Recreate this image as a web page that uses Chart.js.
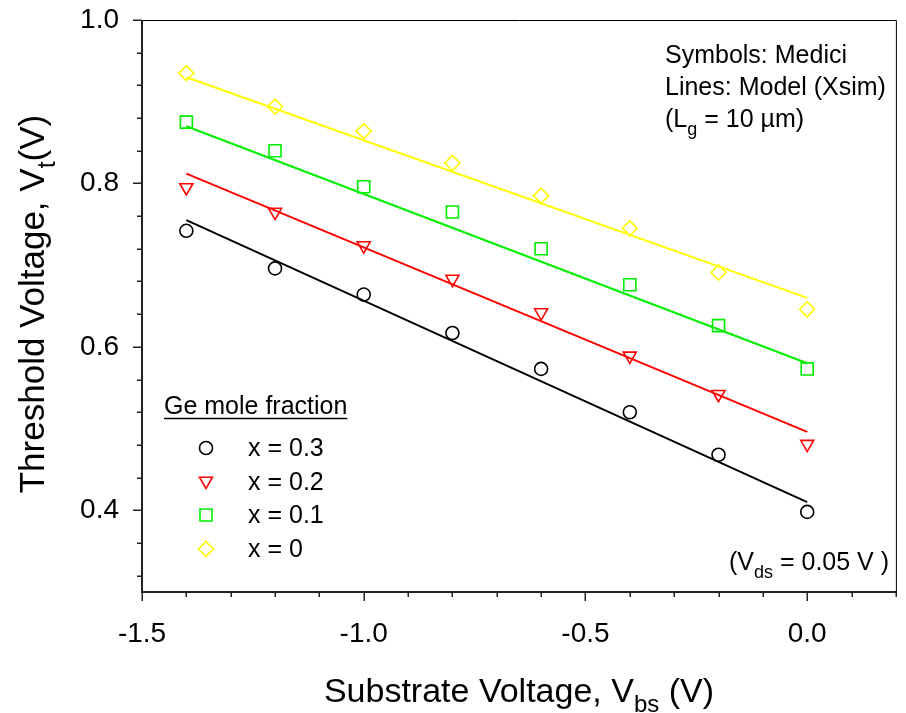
<!DOCTYPE html>
<html>
<head>
<meta charset="utf-8">
<script src="https://cdn.jsdelivr.net/npm/chart.js@4/dist/chart.umd.min.js"></script>
<style>
  body { margin: 0; background: #fff; }
  #wrap { width: 906px; height: 713px; }
</style>
</head>
<body>
<div id="wrap"><canvas id="vtChart" width="906" height="713"></canvas></div>
<script>
// substrate voltage sweep (Medici symbols)
const vbs = [-1.4, -1.2, -1.0, -0.8, -0.6, -0.4, -0.2, 0.0];
const vtX03 = [0.742, 0.696, 0.664, 0.617, 0.573, 0.520, 0.468, 0.398];
const vtX02 = [0.795, 0.765, 0.724, 0.683, 0.642, 0.589, 0.542, 0.481];
const vtX01 = [0.875, 0.840, 0.796, 0.765, 0.720, 0.676, 0.626, 0.573];
const vtX00 = [0.935, 0.894, 0.864, 0.825, 0.785, 0.745, 0.691, 0.646];

// model lines (Xsim)
const modelVbs = [-1.4, 0.0];
const modelX03 = [0.755, 0.410];
const modelX02 = [0.812, 0.496];
const modelX01 = [0.870, 0.580];
const modelX00 = [0.930, 0.660];

const seriesNames = ['x = 0.3', 'x = 0.2', 'x = 0.1', 'x = 0'];
const xTickValues = [-1.5, -1.0, -0.5, 0.0];
const yTickValues = [0.4, 0.6, 0.8, 1.0];

const FONT = "'Liberation Sans', Arial, Helvetica, sans-serif";

function pts(xs, ys) {
    return xs.map(function (x, i) { return { x: x, y: ys[i] }; });
}

const markers = [
    { color: '#000000', style: 'circle', radius: 6.5, rotation: 0 },
    { color: '#ff0000', style: 'triangle', radius: 7.5, rotation: 180 },
    { color: '#00ee00', style: 'rect', radius: 8.5, rotation: 0 },
    { color: '#ffff00', style: 'rectRot', radius: 7.5, rotation: 0 }
];
const lineColors = ['#000000', '#ff0000', '#00ee00', '#ffff00'];

const symbolData = [vtX03, vtX02, vtX01, vtX00];
const modelData = [modelX03, modelX02, modelX01, modelX00];

const datasets = [];
modelData.forEach(function (ys, i) {
    datasets.push({
        label: 'model ' + seriesNames[i],
        data: pts(modelVbs, ys),
        showLine: true,
        borderColor: lineColors[i],
        borderWidth: 2,
        pointRadius: 0,
        fill: false
    });
});
symbolData.forEach(function (ys, i) {
    const m = markers[i];
    datasets.push({
        label: seriesNames[i],
        data: pts(vbs, ys),
        showLine: false,
        pointStyle: m.style,
        pointRotation: m.rotation,
        pointRadius: m.radius,
        pointHoverRadius: m.radius,
        pointBorderWidth: 1.6,
        pointBorderColor: m.color,
        pointBackgroundColor: 'rgba(0,0,0,0)'
    });
});

// text with subscripts: parts = [[text, isSub], ...]
function textWidth(ctx, parts, size) {
    let w = 0;
    parts.forEach(function (p) {
        ctx.font = (p[1] ? Math.round(size * 0.72) : size) + 'px ' + FONT;
        w += ctx.measureText(p[0]).width;
    });
    return w;
}
function drawParts(ctx, parts, x, y, size) {
    ctx.textBaseline = 'alphabetic';
    ctx.textAlign = 'left';
    parts.forEach(function (p) {
        ctx.font = (p[1] ? Math.round(size * 0.72) : size) + 'px ' + FONT;
        ctx.fillText(p[0], x, p[1] ? y + size * 0.3 : y);
        x += ctx.measureText(p[0]).width;
    });
}

const decorPlugin = {
    id: 'decor',
    afterDraw: function (chart) {
        const ctx = chart.ctx;
        const a = chart.chartArea;
        const xs = chart.scales.x;
        const ys = chart.scales.y;
        ctx.save();

        // frame
        ctx.strokeStyle = '#000';
        ctx.lineWidth = 1;
        ctx.beginPath();
        ctx.moveTo(a.left, a.top + 0.5);
        ctx.lineTo(a.right + 0.5, a.top + 0.5);
        ctx.lineTo(a.right + 0.5, a.bottom);
        ctx.stroke();
        ctx.strokeStyle = '#222';
        ctx.lineWidth = 2;
        ctx.beginPath();
        ctx.moveTo(a.left, a.top);
        ctx.lineTo(a.left, a.bottom);
        ctx.lineTo(a.right + 1, a.bottom);
        ctx.stroke();

        // tick marks
        ctx.lineWidth = 1.5;
        for (let i = 0; i <= 17; i++) {
            const v = -1.5 + 0.1 * i;
            const px = Math.round(xs.getPixelForValue(v)) + 0.25;
            const major = i % 5 === 0;
            ctx.beginPath();
            ctx.moveTo(px, a.bottom);
            ctx.lineTo(px, a.bottom + (major ? 9 : 5));
            ctx.stroke();
        }
        for (let i = 0; i <= 17; i++) {
            const v = 1.0 - 0.04 * i;
            const py = Math.round(ys.getPixelForValue(v)) + 0.25;
            const major = i % 5 === 0;
            ctx.beginPath();
            ctx.moveTo(a.left, py);
            ctx.lineTo(a.left - (major ? 9 : 5), py);
            ctx.stroke();
        }

        ctx.fillStyle = '#000';

        // axis titles
        const xTitle = [['Substrate Voltage, V', false], ['bs', true], [' (V)', false]];
        const xw = textWidth(ctx, xTitle, 34);
        drawParts(ctx, xTitle, (a.left + a.right) / 2 - xw / 2, 702, 34);

        const yTitle = [['Threshold Voltage, V', false], ['t', true], ['(V)', false]];
        const yw = textWidth(ctx, yTitle, 35);
        ctx.save();
        ctx.translate(44, 304);
        ctx.rotate(-Math.PI / 2);
        drawParts(ctx, yTitle, -yw / 2, 0, 35);
        ctx.restore();

        // notes
        drawParts(ctx, [['Symbols: Medici', false]], 665, 63, 25);
        drawParts(ctx, [['Lines: Model (Xsim)', false]], 665, 95, 25);
        drawParts(ctx, [['(L', false], ['g', true], [' = 10 \u00b5m)', false]], 665, 127, 25);
        drawParts(ctx, [['(V', false], ['ds', true], [' = 0.05 V )', false]], 729, 570, 25);

        // legend
        drawParts(ctx, [['Ge mole fraction', false]], 164, 414, 25);
        ctx.font = '25px ' + FONT;
        const gw = ctx.measureText('Ge mole fraction').width;
        ctx.strokeStyle = '#000';
        ctx.lineWidth = 1.5;
        ctx.beginPath();
        ctx.moveTo(164, 418.5);
        ctx.lineTo(164 + gw, 418.5);
        ctx.stroke();

        const rowY = [448, 481, 515, 549];
        const baseY = [456, 490, 523, 557];
        seriesNames.forEach(function (name, i) {
            const m = markers[i];
            ctx.strokeStyle = m.color;
            ctx.fillStyle = 'rgba(0,0,0,0)';
            ctx.lineWidth = 1.6;
            Chart.helpers.drawPoint(ctx, {
                pointStyle: m.style, rotation: m.rotation, radius: m.radius, borderWidth: 1.6
            }, 206, rowY[i]);
            ctx.fillStyle = '#000';
            drawParts(ctx, [[name, false]], 248, baseY[i], 25);
        });

        ctx.restore();
    }
};

Chart.defaults.color = '#000';
Chart.defaults.font.family = FONT;

const ctx = document.getElementById('vtChart').getContext('2d');
const myChart = new Chart(ctx, {
    type: 'scatter',
    data: { datasets: datasets },
    options: {
        responsive: false,
        animation: false,
        layout: { padding: { top: 20, right: 10, left: 0, bottom: 0 } },
        plugins: {
            legend: { display: false },
            tooltip: { enabled: false }
        },
        scales: {
            x: {
                type: 'linear',
                min: -1.5,
                max: 0.2,
                grid: { display: false, drawTicks: false },
                border: { display: false },
                afterBuildTicks: function (scale) {
                    scale.ticks = xTickValues.map(function (v) { return { value: v }; });
                },
                afterFit: function (scale) {
                    scale.height = 121;
                    scale.paddingLeft = 0;
                    scale.paddingRight = 0;
                },
                ticks: {
                    padding: 25,
                    maxRotation: 0,
                    font: { size: 28 },
                    callback: function (v) { return Number(v).toFixed(1); }
                }
            },
            y: {
                type: 'linear',
                min: 0.3,
                max: 1.0,
                grid: { display: false, drawTicks: false },
                border: { display: false },
                afterBuildTicks: function (scale) {
                    scale.ticks = yTickValues.map(function (v) { return { value: v }; });
                },
                afterFit: function (scale) {
                    scale.width = 142;
                    scale.paddingTop = 0;
                    scale.paddingBottom = 0;
                },
                ticks: {
                    padding: 23,
                    font: { size: 28 },
                    callback: function (v) { return Number(v).toFixed(1); }
                }
            }
        }
    },
    plugins: [decorPlugin]
});
</script>
</body>
</html>
